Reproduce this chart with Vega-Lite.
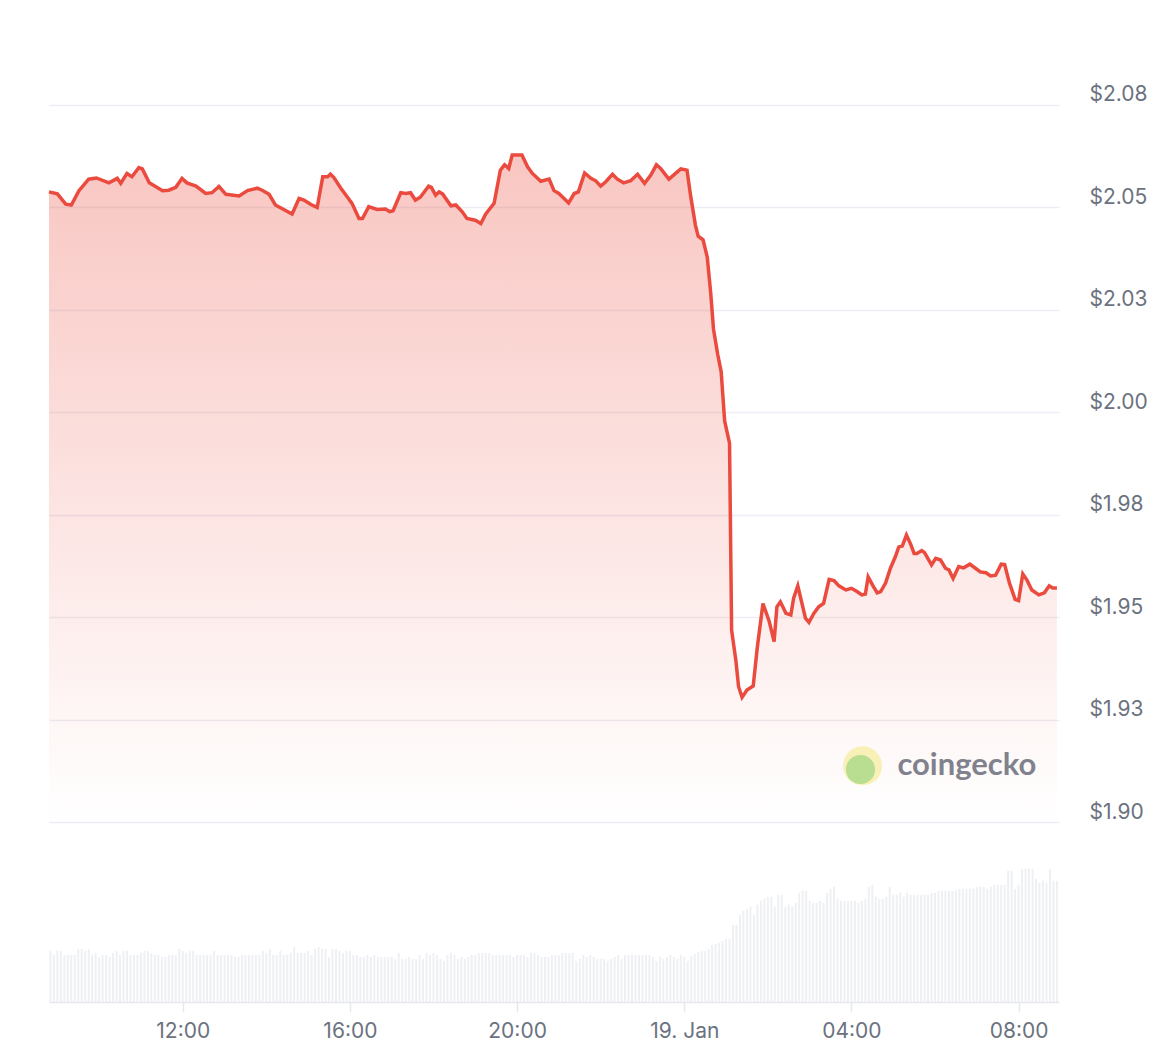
{
  "$schema": "https://vega.github.io/schema/vega-lite/v6.json",
  "description": "24h price chart with volume bars",
  "width": 1010,
  "height": 1002,
  "padding": {"left": 42, "top": 0, "right": 0, "bottom": 0},
  "background": "white",
  "config": {"view": {"stroke": null}, "font": "Inter"},
  "datasets": {
    "price": [
      {"t":"2025-01-18T08:48","p":2.0537},{"t":"2025-01-18T09:00","p":2.0532},{"t":"2025-01-18T09:12","p":2.0507},{"t":"2025-01-18T09:20","p":2.0505},
      {"t":"2025-01-18T09:31","p":2.0540},{"t":"2025-01-18T09:45","p":2.0568},{"t":"2025-01-18T09:56","p":2.0571},{"t":"2025-01-18T10:14","p":2.0559},
      {"t":"2025-01-18T10:26","p":2.0570},{"t":"2025-01-18T10:31","p":2.0558},{"t":"2025-01-18T10:40","p":2.0582},{"t":"2025-01-18T10:47","p":2.0574},
      {"t":"2025-01-18T10:57","p":2.0596},{"t":"2025-01-18T11:02","p":2.0593},{"t":"2025-01-18T11:12","p":2.0559},{"t":"2025-01-18T11:31","p":2.0540},
      {"t":"2025-01-18T11:40","p":2.0541},{"t":"2025-01-18T11:50","p":2.0548},{"t":"2025-01-18T11:59","p":2.0570},{"t":"2025-01-18T12:06","p":2.0559},
      {"t":"2025-01-18T12:19","p":2.0551},{"t":"2025-01-18T12:33","p":2.0533},{"t":"2025-01-18T12:42","p":2.0535},{"t":"2025-01-18T12:52","p":2.0550},
      {"t":"2025-01-18T13:02","p":2.0531},{"t":"2025-01-18T13:21","p":2.0527},{"t":"2025-01-18T13:33","p":2.0540},{"t":"2025-01-18T13:47","p":2.0546},
      {"t":"2025-01-18T13:54","p":2.0541},{"t":"2025-01-18T14:04","p":2.0531},{"t":"2025-01-18T14:13","p":2.0505},{"t":"2025-01-18T14:25","p":2.0494},
      {"t":"2025-01-18T14:37","p":2.0483},{"t":"2025-01-18T14:47","p":2.0521},{"t":"2025-01-18T14:54","p":2.0517},{"t":"2025-01-18T15:04","p":2.0506},
      {"t":"2025-01-18T15:13","p":2.0499},{"t":"2025-01-18T15:21","p":2.0574},{"t":"2025-01-18T15:28","p":2.0574},{"t":"2025-01-18T15:32","p":2.0580},
      {"t":"2025-01-18T15:37","p":2.0572},{"t":"2025-01-18T15:47","p":2.0546},{"t":"2025-01-18T15:56","p":2.0525},{"t":"2025-01-18T16:03","p":2.0509},
      {"t":"2025-01-18T16:13","p":2.0472},{"t":"2025-01-18T16:18","p":2.0472},{"t":"2025-01-18T16:27","p":2.0501},{"t":"2025-01-18T16:39","p":2.0494},
      {"t":"2025-01-18T16:51","p":2.0495},{"t":"2025-01-18T16:57","p":2.0489},{"t":"2025-01-18T17:02","p":2.0491},{"t":"2025-01-18T17:13","p":2.0535},
      {"t":"2025-01-18T17:20","p":2.0533},{"t":"2025-01-18T17:27","p":2.0535},{"t":"2025-01-18T17:34","p":2.0517},{"t":"2025-01-18T17:41","p":2.0524},
      {"t":"2025-01-18T17:53","p":2.0551},{"t":"2025-01-18T17:57","p":2.0548},{"t":"2025-01-18T18:03","p":2.0529},{"t":"2025-01-18T18:08","p":2.0537},
      {"t":"2025-01-18T18:13","p":2.0532},{"t":"2025-01-18T18:25","p":2.0503},{"t":"2025-01-18T18:32","p":2.0505},{"t":"2025-01-18T18:41","p":2.0489},
      {"t":"2025-01-18T18:48","p":2.0472},{"t":"2025-01-18T19:00","p":2.0468},{"t":"2025-01-18T19:08","p":2.0460},{"t":"2025-01-18T19:15","p":2.0483},
      {"t":"2025-01-18T19:27","p":2.0509},{"t":"2025-01-18T19:36","p":2.0590},{"t":"2025-01-18T19:42","p":2.0603},{"t":"2025-01-18T19:48","p":2.0594},
      {"t":"2025-01-18T19:53","p":2.0627},{"t":"2025-01-18T20:07","p":2.0627},{"t":"2025-01-18T20:15","p":2.0598},{"t":"2025-01-18T20:22","p":2.0582},
      {"t":"2025-01-18T20:34","p":2.0563},{"t":"2025-01-18T20:46","p":2.0568},{"t":"2025-01-18T20:53","p":2.0540},{"t":"2025-01-18T21:00","p":2.0533},
      {"t":"2025-01-18T21:14","p":2.0510},{"t":"2025-01-18T21:22","p":2.0533},{"t":"2025-01-18T21:28","p":2.0537},{"t":"2025-01-18T21:37","p":2.0583},
      {"t":"2025-01-18T21:46","p":2.0570},{"t":"2025-01-18T21:53","p":2.0564},{"t":"2025-01-18T22:00","p":2.0551},{"t":"2025-01-18T22:07","p":2.0561},
      {"t":"2025-01-18T22:17","p":2.0580},{"t":"2025-01-18T22:24","p":2.0568},{"t":"2025-01-18T22:33","p":2.0559},{"t":"2025-01-18T22:43","p":2.0564},
      {"t":"2025-01-18T22:53","p":2.0580},{"t":"2025-01-18T23:03","p":2.0558},{"t":"2025-01-18T23:12","p":2.0578},{"t":"2025-01-18T23:20","p":2.0603},
      {"t":"2025-01-18T23:26","p":2.0594},{"t":"2025-01-18T23:38","p":2.0568},{"t":"2025-01-18T23:55","p":2.0593},
      {"t":"2025-01-19T00:04","p":2.0590},{"t":"2025-01-19T00:09","p":2.0529},{"t":"2025-01-19T00:16","p":2.0456},{"t":"2025-01-19T00:20","p":2.0429},
      {"t":"2025-01-19T00:27","p":2.0420},{"t":"2025-01-19T00:33","p":2.0378},{"t":"2025-01-19T00:38","p":2.0290},{"t":"2025-01-19T00:42","p":2.0202},
      {"t":"2025-01-19T00:48","p":2.0141},{"t":"2025-01-19T00:53","p":2.0098},{"t":"2025-01-19T00:58","p":1.9978},{"t":"2025-01-19T01:05","p":1.9924},
      {"t":"2025-01-19T01:08","p":1.9468},{"t":"2025-01-19T01:14","p":1.9395},{"t":"2025-01-19T01:18","p":1.9330},{"t":"2025-01-19T01:23","p":1.9304},
      {"t":"2025-01-19T01:30","p":1.9322},{"t":"2025-01-19T01:39","p":1.9332},{"t":"2025-01-19T01:45","p":1.9428},{"t":"2025-01-19T01:53","p":1.9533},
      {"t":"2025-01-19T02:02","p":1.9489},{"t":"2025-01-19T02:09","p":1.9440},{"t":"2025-01-19T02:13","p":1.9525},{"t":"2025-01-19T02:18","p":1.9537},
      {"t":"2025-01-19T02:26","p":1.9509},{"t":"2025-01-19T02:33","p":1.9505},{"t":"2025-01-19T02:37","p":1.9546},{"t":"2025-01-19T02:43","p":1.9576},
      {"t":"2025-01-19T02:54","p":1.9497},{"t":"2025-01-19T02:59","p":1.9487},{"t":"2025-01-19T03:06","p":1.9509},{"t":"2025-01-19T03:13","p":1.9525},
      {"t":"2025-01-19T03:20","p":1.9533},{"t":"2025-01-19T03:28","p":1.9592},{"t":"2025-01-19T03:35","p":1.9589},{"t":"2025-01-19T03:42","p":1.9576},
      {"t":"2025-01-19T03:52","p":1.9566},{"t":"2025-01-19T04:00","p":1.9570},{"t":"2025-01-19T04:08","p":1.9562},{"t":"2025-01-19T04:15","p":1.9554},
      {"t":"2025-01-19T04:20","p":1.9556},{"t":"2025-01-19T04:24","p":1.9598},{"t":"2025-01-19T04:31","p":1.9576},{"t":"2025-01-19T04:37","p":1.9559},
      {"t":"2025-01-19T04:42","p":1.9562},{"t":"2025-01-19T04:49","p":1.9583},{"t":"2025-01-19T04:56","p":1.9619},{"t":"2025-01-19T05:03","p":1.9647},
      {"t":"2025-01-19T05:08","p":1.9671},{"t":"2025-01-19T05:13","p":1.9673},{"t":"2025-01-19T05:19","p":1.9700},{"t":"2025-01-19T05:25","p":1.9678},
      {"t":"2025-01-19T05:30","p":1.9655},{"t":"2025-01-19T05:34","p":1.9655},{"t":"2025-01-19T05:41","p":1.9662},{"t":"2025-01-19T05:45","p":1.9657},
      {"t":"2025-01-19T05:55","p":1.9627},{"t":"2025-01-19T06:01","p":1.9643},{"t":"2025-01-19T06:08","p":1.9639},{"t":"2025-01-19T06:15","p":1.9619},
      {"t":"2025-01-19T06:20","p":1.9615},{"t":"2025-01-19T06:26","p":1.9594},{"t":"2025-01-19T06:34","p":1.9623},{"t":"2025-01-19T06:41","p":1.9620},
      {"t":"2025-01-19T06:50","p":1.9629},{"t":"2025-01-19T06:58","p":1.9619},{"t":"2025-01-19T07:05","p":1.9610},{"t":"2025-01-19T07:13","p":1.9608},
      {"t":"2025-01-19T07:20","p":1.9600},{"t":"2025-01-19T07:27","p":1.9602},{"t":"2025-01-19T07:35","p":1.9629},{"t":"2025-01-19T07:40","p":1.9628},
      {"t":"2025-01-19T07:47","p":1.9582},{"t":"2025-01-19T07:55","p":1.9543},{"t":"2025-01-19T08:00","p":1.9540},{"t":"2025-01-19T08:06","p":1.9605},
      {"t":"2025-01-19T08:12","p":1.9590},{"t":"2025-01-19T08:19","p":1.9566},{"t":"2025-01-19T08:29","p":1.9554},{"t":"2025-01-19T08:37","p":1.9559},
      {"t":"2025-01-19T08:44","p":1.9576},{"t":"2025-01-19T08:49","p":1.9571},{"t":"2025-01-19T08:55","p":1.9571}
    ],
    "volume": [
      {"t":"2025-01-18T08:50","v":51},{"t":"2025-01-18T08:55","v":47},{"t":"2025-01-18T09:00","v":51},{"t":"2025-01-18T09:05","v":51},{"t":"2025-01-18T09:10","v":47},
      {"t":"2025-01-18T09:15","v":47},{"t":"2025-01-18T09:20","v":47},{"t":"2025-01-18T09:25","v":47},{"t":"2025-01-18T09:30","v":53},{"t":"2025-01-18T09:35","v":53},
      {"t":"2025-01-18T09:40","v":51},{"t":"2025-01-18T09:45","v":53},{"t":"2025-01-18T09:50","v":47},{"t":"2025-01-18T09:55","v":49},{"t":"2025-01-18T10:00","v":45},
      {"t":"2025-01-18T10:05","v":47},{"t":"2025-01-18T10:10","v":47},{"t":"2025-01-18T10:15","v":45},{"t":"2025-01-18T10:20","v":49},{"t":"2025-01-18T10:25","v":51},
      {"t":"2025-01-18T10:30","v":47},{"t":"2025-01-18T10:35","v":51},{"t":"2025-01-18T10:40","v":51},{"t":"2025-01-18T10:45","v":47},{"t":"2025-01-18T10:50","v":47},
      {"t":"2025-01-18T10:55","v":47},{"t":"2025-01-18T11:00","v":49},{"t":"2025-01-18T11:05","v":51},{"t":"2025-01-18T11:10","v":51},{"t":"2025-01-18T11:15","v":49},
      {"t":"2025-01-18T11:20","v":47},{"t":"2025-01-18T11:25","v":47},{"t":"2025-01-18T11:30","v":45},{"t":"2025-01-18T11:35","v":45},{"t":"2025-01-18T11:40","v":47},
      {"t":"2025-01-18T11:45","v":47},{"t":"2025-01-18T11:50","v":47},{"t":"2025-01-18T11:55","v":53},{"t":"2025-01-18T12:00","v":51},{"t":"2025-01-18T12:05","v":49},
      {"t":"2025-01-18T12:10","v":51},{"t":"2025-01-18T12:15","v":51},{"t":"2025-01-18T12:20","v":47},{"t":"2025-01-18T12:25","v":47},{"t":"2025-01-18T12:30","v":47},
      {"t":"2025-01-18T12:35","v":47},{"t":"2025-01-18T12:40","v":47},{"t":"2025-01-18T12:45","v":51},{"t":"2025-01-18T12:50","v":47},{"t":"2025-01-18T12:55","v":47},
      {"t":"2025-01-18T13:00","v":47},{"t":"2025-01-18T13:05","v":47},{"t":"2025-01-18T13:10","v":47},{"t":"2025-01-18T13:15","v":45},{"t":"2025-01-18T13:20","v":45},
      {"t":"2025-01-18T13:25","v":47},{"t":"2025-01-18T13:30","v":47},{"t":"2025-01-18T13:35","v":47},{"t":"2025-01-18T13:40","v":47},{"t":"2025-01-18T13:45","v":47},
      {"t":"2025-01-18T13:50","v":47},{"t":"2025-01-18T13:55","v":51},{"t":"2025-01-18T14:00","v":49},{"t":"2025-01-18T14:05","v":53},{"t":"2025-01-18T14:10","v":47},
      {"t":"2025-01-18T14:15","v":47},{"t":"2025-01-18T14:20","v":51},{"t":"2025-01-18T14:25","v":47},{"t":"2025-01-18T14:30","v":47},{"t":"2025-01-18T14:35","v":49},
      {"t":"2025-01-18T14:40","v":55},{"t":"2025-01-18T14:45","v":49},{"t":"2025-01-18T14:50","v":49},{"t":"2025-01-18T14:55","v":49},{"t":"2025-01-18T15:00","v":51},
      {"t":"2025-01-18T15:05","v":47},{"t":"2025-01-18T15:10","v":53},{"t":"2025-01-18T15:15","v":55},{"t":"2025-01-18T15:20","v":53},{"t":"2025-01-18T15:25","v":53},
      {"t":"2025-01-18T15:30","v":45},{"t":"2025-01-18T15:35","v":53},{"t":"2025-01-18T15:40","v":53},{"t":"2025-01-18T15:45","v":51},{"t":"2025-01-18T15:50","v":49},
      {"t":"2025-01-18T15:55","v":51},{"t":"2025-01-18T16:00","v":51},{"t":"2025-01-18T16:05","v":47},{"t":"2025-01-18T16:10","v":47},{"t":"2025-01-18T16:15","v":45},
      {"t":"2025-01-18T16:20","v":45},{"t":"2025-01-18T16:25","v":47},{"t":"2025-01-18T16:30","v":45},{"t":"2025-01-18T16:35","v":47},{"t":"2025-01-18T16:40","v":45},
      {"t":"2025-01-18T16:45","v":45},{"t":"2025-01-18T16:50","v":45},{"t":"2025-01-18T16:55","v":45},{"t":"2025-01-18T17:00","v":45},{"t":"2025-01-18T17:05","v":43},
      {"t":"2025-01-18T17:10","v":49},{"t":"2025-01-18T17:15","v":43},{"t":"2025-01-18T17:20","v":43},{"t":"2025-01-18T17:25","v":45},{"t":"2025-01-18T17:30","v":43},
      {"t":"2025-01-18T17:35","v":43},{"t":"2025-01-18T17:40","v":47},{"t":"2025-01-18T17:45","v":43},{"t":"2025-01-18T17:50","v":49},{"t":"2025-01-18T17:55","v":47},
      {"t":"2025-01-18T18:00","v":49},{"t":"2025-01-18T18:05","v":47},{"t":"2025-01-18T18:10","v":43},{"t":"2025-01-18T18:15","v":41},{"t":"2025-01-18T18:20","v":47},
      {"t":"2025-01-18T18:25","v":49},{"t":"2025-01-18T18:30","v":47},{"t":"2025-01-18T18:35","v":43},{"t":"2025-01-18T18:40","v":45},{"t":"2025-01-18T18:45","v":43},
      {"t":"2025-01-18T18:50","v":45},{"t":"2025-01-18T18:55","v":47},{"t":"2025-01-18T19:00","v":47},{"t":"2025-01-18T19:05","v":49},{"t":"2025-01-18T19:10","v":49},
      {"t":"2025-01-18T19:15","v":49},{"t":"2025-01-18T19:20","v":49},{"t":"2025-01-18T19:25","v":47},{"t":"2025-01-18T19:30","v":47},{"t":"2025-01-18T19:35","v":47},
      {"t":"2025-01-18T19:40","v":47},{"t":"2025-01-18T19:45","v":47},{"t":"2025-01-18T19:50","v":47},{"t":"2025-01-18T19:55","v":45},{"t":"2025-01-18T20:00","v":47},
      {"t":"2025-01-18T20:05","v":47},{"t":"2025-01-18T20:10","v":47},{"t":"2025-01-18T20:15","v":45},{"t":"2025-01-18T20:20","v":49},{"t":"2025-01-18T20:25","v":49},
      {"t":"2025-01-18T20:30","v":47},{"t":"2025-01-18T20:35","v":45},{"t":"2025-01-18T20:40","v":45},{"t":"2025-01-18T20:45","v":45},{"t":"2025-01-18T20:50","v":47},
      {"t":"2025-01-18T20:55","v":47},{"t":"2025-01-18T21:00","v":47},{"t":"2025-01-18T21:05","v":49},{"t":"2025-01-18T21:10","v":49},{"t":"2025-01-18T21:15","v":49},
      {"t":"2025-01-18T21:20","v":49},{"t":"2025-01-18T21:25","v":41},{"t":"2025-01-18T21:30","v":43},{"t":"2025-01-18T21:35","v":47},{"t":"2025-01-18T21:40","v":45},
      {"t":"2025-01-18T21:45","v":47},{"t":"2025-01-18T21:50","v":45},{"t":"2025-01-18T21:55","v":43},{"t":"2025-01-18T22:00","v":43},{"t":"2025-01-18T22:05","v":43},
      {"t":"2025-01-18T22:10","v":41},{"t":"2025-01-18T22:15","v":43},{"t":"2025-01-18T22:20","v":45},{"t":"2025-01-18T22:25","v":47},{"t":"2025-01-18T22:30","v":43},
      {"t":"2025-01-18T22:35","v":47},{"t":"2025-01-18T22:40","v":47},{"t":"2025-01-18T22:45","v":47},{"t":"2025-01-18T22:50","v":47},{"t":"2025-01-18T22:55","v":47},
      {"t":"2025-01-18T23:00","v":47},{"t":"2025-01-18T23:05","v":47},{"t":"2025-01-18T23:10","v":47},{"t":"2025-01-18T23:15","v":45},{"t":"2025-01-18T23:20","v":41},
      {"t":"2025-01-18T23:25","v":45},{"t":"2025-01-18T23:30","v":43},{"t":"2025-01-18T23:35","v":45},{"t":"2025-01-18T23:40","v":47},{"t":"2025-01-18T23:45","v":45},
      {"t":"2025-01-18T23:50","v":43},{"t":"2025-01-18T23:55","v":47},
      {"t":"2025-01-19T00:00","v":45},{"t":"2025-01-19T00:05","v":41},{"t":"2025-01-19T00:10","v":46},{"t":"2025-01-19T00:15","v":48},{"t":"2025-01-19T00:20","v":50},
      {"t":"2025-01-19T00:25","v":51},{"t":"2025-01-19T00:30","v":51},{"t":"2025-01-19T00:35","v":53},{"t":"2025-01-19T00:40","v":57},{"t":"2025-01-19T00:45","v":58},
      {"t":"2025-01-19T00:50","v":59},{"t":"2025-01-19T00:55","v":61},{"t":"2025-01-19T01:00","v":63},{"t":"2025-01-19T01:05","v":63},{"t":"2025-01-19T01:10","v":77},
      {"t":"2025-01-19T01:15","v":77},{"t":"2025-01-19T01:20","v":87},{"t":"2025-01-19T01:25","v":91},{"t":"2025-01-19T01:30","v":93},{"t":"2025-01-19T01:35","v":95},
      {"t":"2025-01-19T01:40","v":87},{"t":"2025-01-19T01:45","v":97},{"t":"2025-01-19T01:50","v":101},{"t":"2025-01-19T01:55","v":103},{"t":"2025-01-19T02:00","v":105},
      {"t":"2025-01-19T02:05","v":105},{"t":"2025-01-19T02:10","v":95},{"t":"2025-01-19T02:15","v":107},{"t":"2025-01-19T02:20","v":107},{"t":"2025-01-19T02:25","v":95},
      {"t":"2025-01-19T02:30","v":97},{"t":"2025-01-19T02:35","v":95},{"t":"2025-01-19T02:40","v":99},{"t":"2025-01-19T02:45","v":109},{"t":"2025-01-19T02:50","v":111},
      {"t":"2025-01-19T02:55","v":111},{"t":"2025-01-19T03:00","v":101},{"t":"2025-01-19T03:05","v":99},{"t":"2025-01-19T03:10","v":99},{"t":"2025-01-19T03:15","v":101},
      {"t":"2025-01-19T03:20","v":99},{"t":"2025-01-19T03:25","v":109},{"t":"2025-01-19T03:30","v":113},{"t":"2025-01-19T03:35","v":115},{"t":"2025-01-19T03:40","v":103},
      {"t":"2025-01-19T03:45","v":101},{"t":"2025-01-19T03:50","v":101},{"t":"2025-01-19T03:55","v":101},{"t":"2025-01-19T04:00","v":101},{"t":"2025-01-19T04:05","v":101},
      {"t":"2025-01-19T04:10","v":99},{"t":"2025-01-19T04:15","v":101},{"t":"2025-01-19T04:20","v":103},{"t":"2025-01-19T04:25","v":115},{"t":"2025-01-19T04:30","v":117},
      {"t":"2025-01-19T04:35","v":105},{"t":"2025-01-19T04:40","v":103},{"t":"2025-01-19T04:45","v":103},{"t":"2025-01-19T04:50","v":105},{"t":"2025-01-19T04:55","v":115},
      {"t":"2025-01-19T05:00","v":107},{"t":"2025-01-19T05:05","v":107},{"t":"2025-01-19T05:10","v":109},{"t":"2025-01-19T05:15","v":105},{"t":"2025-01-19T05:20","v":109},
      {"t":"2025-01-19T05:25","v":107},{"t":"2025-01-19T05:30","v":107},{"t":"2025-01-19T05:35","v":107},{"t":"2025-01-19T05:40","v":107},{"t":"2025-01-19T05:45","v":107},
      {"t":"2025-01-19T05:50","v":107},{"t":"2025-01-19T05:55","v":109},{"t":"2025-01-19T06:00","v":109},{"t":"2025-01-19T06:05","v":111},{"t":"2025-01-19T06:10","v":111},
      {"t":"2025-01-19T06:15","v":111},{"t":"2025-01-19T06:20","v":111},{"t":"2025-01-19T06:25","v":111},{"t":"2025-01-19T06:30","v":111},{"t":"2025-01-19T06:35","v":113},
      {"t":"2025-01-19T06:40","v":113},{"t":"2025-01-19T06:45","v":113},{"t":"2025-01-19T06:50","v":113},{"t":"2025-01-19T06:55","v":113},{"t":"2025-01-19T07:00","v":115},
      {"t":"2025-01-19T07:05","v":115},{"t":"2025-01-19T07:10","v":115},{"t":"2025-01-19T07:15","v":113},{"t":"2025-01-19T07:20","v":115},{"t":"2025-01-19T07:25","v":117},
      {"t":"2025-01-19T07:30","v":117},{"t":"2025-01-19T07:35","v":117},{"t":"2025-01-19T07:40","v":117},{"t":"2025-01-19T07:45","v":131},{"t":"2025-01-19T07:50","v":131},
      {"t":"2025-01-19T07:55","v":113},{"t":"2025-01-19T08:00","v":117},{"t":"2025-01-19T08:05","v":133},{"t":"2025-01-19T08:10","v":133},{"t":"2025-01-19T08:15","v":133},
      {"t":"2025-01-19T08:20","v":133},{"t":"2025-01-19T08:25","v":123},{"t":"2025-01-19T08:30","v":119},{"t":"2025-01-19T08:35","v":121},{"t":"2025-01-19T08:40","v":119},
      {"t":"2025-01-19T08:45","v":133},{"t":"2025-01-19T08:50","v":121},{"t":"2025-01-19T08:55","v":121}
    ],
    "logo_halo": [{"t": "2025-01-19T04:16", "p": 1.9137}],
    "logo_body": [{"t": "2025-01-19T04:13", "p": 1.9128}],
    "logo_text": [{"t": "2025-01-19T05:06", "p": 1.9137, "label": "coingecko"}]
  },
  "encoding": {
    "x": {
      "field": "t",
      "type": "temporal",
      "scale": {"domain": [
        {"year": 2025, "month": 1, "date": 18, "hours": 8, "minutes": 48},
        {"year": 2025, "month": 1, "date": 19, "hours": 8, "minutes": 58}
      ], "padding": 0},
      "axis": {
        "title": null,
        "grid": false,
        "values": [
          {"year": 2025, "month": 1, "date": 18, "hours": 12},
          {"year": 2025, "month": 1, "date": 18, "hours": 16},
          {"year": 2025, "month": 1, "date": 18, "hours": 20},
          {"year": 2025, "month": 1, "date": 19, "hours": 0},
          {"year": 2025, "month": 1, "date": 19, "hours": 4},
          {"year": 2025, "month": 1, "date": 19, "hours": 8}
        ],
        "labelExpr": "hours(datum.value) == 0 ? timeFormat(datum.value, '%-d. %b') : timeFormat(datum.value, '%H:%M')",
        "domainColor": "#e6e8ee",
        "domainWidth": 1.5,
        "tickColor": "#e6e8ee",
        "tickWidth": 1.5,
        "tickSize": 10,
        "labelPadding": 8,
        "labelFontSize": 21,
        "labelColor": "#6b7280",
        "labelOverlap": false,
        "labelFlush": false
      }
    }
  },
  "layer": [
    {
      "data": {"name": "volume"},
      "mark": {"type": "bar", "width": 2, "color": "#eef0f4"},
      "encoding": {
        "y": {"field": "v", "type": "quantitative", "scale": {"domain": [0, 1000], "nice": false}, "axis": null}
      }
    },
    {
      "data": {"name": "price"},
      "mark": {
        "type": "area",
        "fill": {
          "gradient": "linear",
          "x1": 0, "y1": 0, "x2": 0, "y2": 1,
          "stops": [
            {"offset": 0, "color": "rgba(234,67,53,0.30)"},
            {"offset": 1, "color": "rgba(234,67,53,0)"}
          ]
        }
      },
      "encoding": {
        "y": {"field": "p", "type": "quantitative", "scale": {"domain": [1.8561, 2.1005], "nice": false, "zero": false}, "axis": null},
        "y2": {"datum": 1.9}
      }
    },
    {
      "data": {"name": "price"},
      "mark": {"type": "line", "color": "#ea4b3e", "strokeWidth": 3.5},
      "encoding": {
        "y": {
          "field": "p",
          "type": "quantitative",
          "scale": {"domain": [1.8561, 2.1005], "nice": false, "zero": false},
          "axis": {
            "orient": "right",
            "title": null,
            "values": [1.9, 1.925, 1.95, 1.975, 2.0, 2.025, 2.05, 2.075],
            "labelExpr": "'$' + format(datum.value + 0.000001, '.2f')",
            "grid": true,
            "gridColor": "#eceef3",
            "gridWidth": 1.5,
            "domain": false,
            "ticks": false,
            "labelPadding": 30,
            "labelOffset": -10,
            "labelFontSize": 21,
            "labelColor": "#6b7280"
          }
        }
      }
    },
    {
      "data": {"name": "logo_halo"},
      "mark": {"type": "point", "filled": true, "size": 1520, "color": "#f8eeb0", "opacity": 0.9},
      "encoding": {
        "y": {"field": "p", "type": "quantitative", "scale": {"domain": [1.8561, 2.1005], "nice": false, "zero": false}, "axis": null}
      }
    },
    {
      "data": {"name": "logo_body"},
      "mark": {"type": "point", "filled": true, "size": 850, "color": "#b6dc8e", "opacity": 0.95},
      "encoding": {
        "y": {"field": "p", "type": "quantitative", "scale": {"domain": [1.8561, 2.1005], "nice": false, "zero": false}, "axis": null}
      }
    },
    {
      "data": {"name": "logo_text"},
      "mark": {"type": "text", "align": "left", "baseline": "middle", "font": "Lato", "fontWeight": "bold", "fontSize": 31, "color": "#6a6e7a", "opacity": 0.85},
      "encoding": {
        "y": {"field": "p", "type": "quantitative", "scale": {"domain": [1.8561, 2.1005], "nice": false, "zero": false}, "axis": null},
        "text": {"field": "label"}
      }
    }
  ],
  "resolve": {"scale": {"y": "independent"}, "axis": {"y": "independent"}}
}
